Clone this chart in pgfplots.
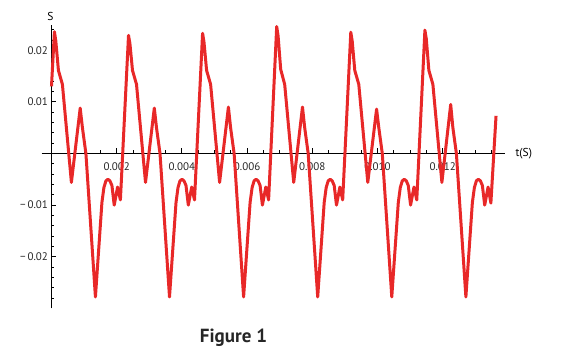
\documentclass[border=0pt]{standalone}
\usepackage{pgfplots}
\pgfplotsset{compat=1.18}
\usepackage{fontspec}
\setmainfont{PT Sans}
\definecolor{curve}{RGB}{232,40,40}
\begin{document}
\begin{tikzpicture}[x=1pt,y=1pt]
\useasboundingbox (0,0) rectangle (567,357);
\begin{axis}[
  at={(41.7pt,48.7pt)}, anchor=south west,
  scale only axis, width=463.3pt, height=283.3pt,
  axis lines=middle,
  xmin=-0.0003, xmax=0.013911,
  ymin=-0.0300, ymax=0.0249,
  scaled ticks=false,
  xtick={0.002,0.004,0.006,0.008,0.010,0.012},
  xticklabels={0.002,0.004,0.006,0.008,0.010,0.012},
  ytick={-0.02,-0.01,0.01,0.02},
  yticklabels={−\,0.02,−\,0.01,0.01,0.02},
  minor xtick={0.0005,0.001,0.0015,0.0025,0.003,0.0035,0.0045,0.005,0.0055,0.0065,0.007,0.0075,0.0085,0.009,0.0095,0.0105,0.011,0.0115,0.0125,0.013,0.0135},
  minor ytick={-0.028,-0.026,-0.024,-0.022,-0.018,-0.016,-0.014,-0.012,-0.008,-0.006,-0.004,-0.002,0.002,0.004,0.006,0.008,0.012,0.014,0.016,0.018,0.022,0.024},
  axis line style={line width=1.4pt,-},
  tick style={black,line width=0.8pt},
  major tick length=5pt, minor tick length=3pt,
  tick align=inside,
  ticklabel style={font=\fontsize{11}{13}\selectfont, text=black!85},
  xticklabel style={yshift=-6pt},
  xlabel={t(S)}, ylabel={S},
  xlabel style={at={(axis cs:0.013911,0)}, anchor=west, xshift=7pt, font=\fontsize{11.5}{13}\selectfont},
  ylabel style={at={(axis cs:0,0.0249)}, anchor=south, xshift=-1pt, yshift=1pt, font=\fontsize{11.5}{13}\selectfont},
  clip=false,
]
\addplot[color=curve, line width=3pt, line join=round] coordinates {
(0.000000,0.0130)
(0.000090,0.0236) (0.000133,0.0218) (0.000213,0.0161) (0.000335,0.0134) (0.000611,-0.0056) (0.000881,0.0088) (0.000949,0.0050) (0.001056,0.0) (0.001348,-0.0278) (0.001547,-0.0095) (0.001608,-0.0066) (0.001670,-0.0053) (0.001731,-0.0050) (0.001792,-0.0053) (0.001854,-0.0062) (0.001924,-0.0100) (0.002028,-0.0065) (0.002114,-0.0090)
(0.002363,0.0229) (0.002406,0.0213) (0.002485,0.0161) (0.002608,0.0134) (0.002884,-0.0056) (0.003154,0.0088) (0.003221,0.0050) (0.003329,0.0) (0.003620,-0.0278) (0.003820,-0.0095) (0.003881,-0.0066) (0.003942,-0.0053) (0.004004,-0.0050) (0.004065,-0.0053) (0.004126,-0.0062) (0.004197,-0.0100) (0.004301,-0.0065) (0.004387,-0.0090)
(0.004635,0.0233) (0.004678,0.0216) (0.004758,0.0161) (0.004881,0.0134) (0.005157,-0.0056) (0.005427,0.0090) (0.005494,0.0050) (0.005602,0.0) (0.005893,-0.0278) (0.006092,-0.0095) (0.006154,-0.0066) (0.006215,-0.0053) (0.006276,-0.0050) (0.006338,-0.0053) (0.006399,-0.0062) (0.006470,-0.0100) (0.006574,-0.0065) (0.006660,-0.0090)
(0.006908,0.0246) (0.006951,0.0228) (0.007031,0.0163) (0.007153,0.0134) (0.007430,-0.0056) (0.007699,0.0090) (0.007767,0.0050) (0.007874,0.0) (0.008166,-0.0278) (0.008365,-0.0095) (0.008426,-0.0066) (0.008488,-0.0053) (0.008549,-0.0050) (0.008610,-0.0053) (0.008672,-0.0062) (0.008742,-0.0100) (0.008846,-0.0065) (0.008932,-0.0090)
(0.009181,0.0235) (0.009224,0.0218) (0.009303,0.0161) (0.009426,0.0134) (0.009702,-0.0056) (0.009972,0.0086) (0.010040,0.0050) (0.010147,0.0) (0.010438,-0.0278) (0.010638,-0.0095) (0.010699,-0.0066) (0.010760,-0.0053) (0.010822,-0.0050) (0.010883,-0.0053) (0.010944,-0.0062) (0.011015,-0.0100) (0.011119,-0.0065) (0.011205,-0.0090)
(0.011454,0.0239) (0.011497,0.0222) (0.011576,0.0161) (0.011699,0.0134) (0.011975,-0.0056) (0.012245,0.0095) (0.012312,0.0050) (0.012420,0.0) (0.012711,-0.0278) (0.012910,-0.0095) (0.012972,-0.0066) (0.013033,-0.0053) (0.013094,-0.0050) (0.013156,-0.0053) (0.013217,-0.0062) (0.013288,-0.0100) (0.013392,-0.0065) (0.013478,-0.0096)
(0.013636,0.0073)
};
\end{axis}
\node[font=\bfseries\fontsize{19}{22}\selectfont, text=black!85] at (233.5,19) {Figure 1};
\end{tikzpicture}
\end{document}
